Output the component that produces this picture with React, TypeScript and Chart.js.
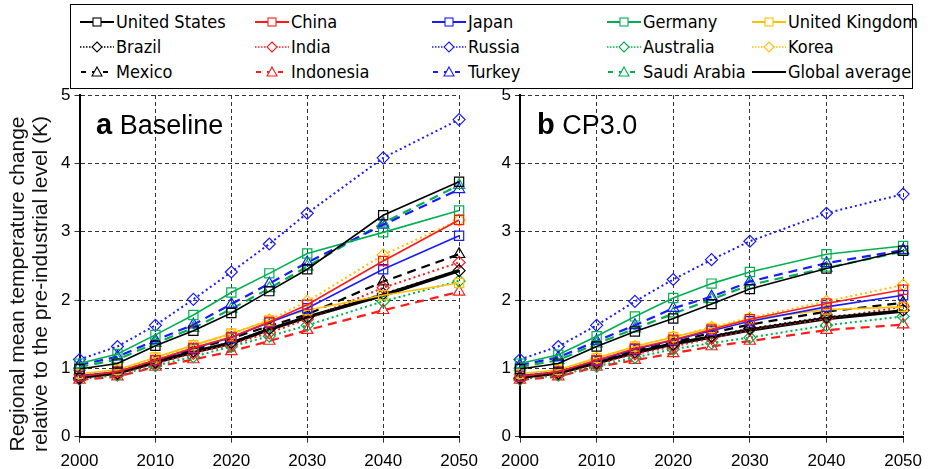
import React, { useEffect, useRef } from 'react';
import { Chart, registerables } from 'chart.js';

Chart.register(...registerables);

// ---- data -----------------------------------------------------------------
const years = [2000, 2005, 2010, 2015, 2020, 2025, 2030, 2040, 2050];
const xTickValues = [2000, 2010, 2020, 2030, 2040, 2050];
const yTickValues = [0, 1, 2, 3, 4, 5];

const countries = [
  'United States', 'China', 'Japan', 'Germany', 'United Kingdom',
  'Brazil', 'India', 'Russia', 'Australia', 'Korea',
  'Mexico', 'Indonesia', 'Turkey', 'Saudi Arabia', 'Global average',
];

// Baseline scenario (K above pre-industrial)
const baseUnitedStates = [0.99, 1.07, 1.33, 1.55, 1.81, 2.13, 2.45, 3.24, 3.73];
const baseChina = [0.88, 0.95, 1.12, 1.30, 1.46, 1.68, 1.93, 2.57, 3.17];
const baseJapan = [0.89, 0.95, 1.12, 1.29, 1.45, 1.67, 1.88, 2.45, 2.94];
const baseGermany = [1.07, 1.21, 1.49, 1.78, 2.11, 2.39, 2.68, 2.99, 3.31];
const baseUnitedKingdom = [0.92, 0.98, 1.16, 1.34, 1.51, 1.70, 1.85, 2.07, 2.25];
const baseBrazil = [0.86, 0.93, 1.09, 1.25, 1.38, 1.58, 1.75, 2.09, 2.43];
const baseIndia = [0.85, 0.92, 1.07, 1.22, 1.35, 1.52, 1.72, 2.18, 2.55];
const baseRussia = [1.13, 1.32, 1.63, 2.01, 2.41, 2.82, 3.27, 4.08, 4.64];
const baseAustralia = [0.84, 0.90, 1.04, 1.17, 1.32, 1.47, 1.63, 1.98, 2.28];
const baseKorea = [0.91, 0.97, 1.15, 1.33, 1.50, 1.71, 1.98, 2.66, 3.17];
const baseMexico = [0.88, 0.94, 1.10, 1.27, 1.44, 1.62, 1.79, 2.27, 2.67];
const baseIndonesia = [0.83, 0.88, 1.02, 1.13, 1.25, 1.40, 1.56, 1.85, 2.12];
const baseTurkey = [1.05, 1.17, 1.41, 1.64, 1.94, 2.24, 2.55, 3.10, 3.62];
const baseSaudiArabia = [1.02, 1.13, 1.37, 1.59, 1.87, 2.17, 2.49, 3.13, 3.68];
const baseGlobal = [0.87, 0.93, 1.09, 1.24, 1.37, 1.57, 1.75, 2.07, 2.43];

// CP3.0 scenario
const cpUnitedStates = [0.99, 1.07, 1.32, 1.54, 1.73, 1.94, 2.16, 2.46, 2.72];
const cpChina = [0.88, 0.95, 1.12, 1.29, 1.42, 1.57, 1.72, 1.95, 2.15];
const cpJapan = [0.89, 0.95, 1.11, 1.28, 1.41, 1.55, 1.69, 1.90, 2.07];
const cpGermany = [1.07, 1.20, 1.47, 1.76, 2.03, 2.24, 2.41, 2.67, 2.79];
const cpUnitedKingdom = [0.92, 0.98, 1.15, 1.32, 1.46, 1.59, 1.72, 1.86, 1.90];
const cpBrazil = [0.86, 0.93, 1.08, 1.24, 1.35, 1.47, 1.58, 1.75, 1.85];
const cpIndia = [0.85, 0.92, 1.06, 1.21, 1.32, 1.44, 1.57, 1.73, 1.90];
const cpRussia = [1.13, 1.32, 1.63, 1.98, 2.30, 2.59, 2.86, 3.27, 3.55];
const cpAustralia = [0.84, 0.90, 1.03, 1.16, 1.28, 1.37, 1.45, 1.63, 1.76];
const cpKorea = [0.91, 0.97, 1.15, 1.32, 1.46, 1.60, 1.74, 1.98, 2.22];
const cpMexico = [0.88, 0.94, 1.10, 1.26, 1.38, 1.52, 1.64, 1.83, 1.96];
const cpIndonesia = [0.83, 0.88, 1.02, 1.12, 1.22, 1.32, 1.40, 1.56, 1.64];
const cpTurkey = [1.05, 1.16, 1.40, 1.63, 1.88, 2.05, 2.27, 2.54, 2.73];
const cpSaudiArabia = [1.02, 1.12, 1.36, 1.58, 1.80, 2.01, 2.22, 2.47, 2.71];
const cpGlobal = [0.87, 0.93, 1.08, 1.23, 1.36, 1.46, 1.56, 1.73, 1.84];

const baselineSeries = [
  baseUnitedStates, baseChina, baseJapan, baseGermany, baseUnitedKingdom,
  baseBrazil, baseIndia, baseRussia, baseAustralia, baseKorea,
  baseMexico, baseIndonesia, baseTurkey, baseSaudiArabia, baseGlobal,
];
const cp30Series = [
  cpUnitedStates, cpChina, cpJapan, cpGermany, cpUnitedKingdom,
  cpBrazil, cpIndia, cpRussia, cpAustralia, cpKorea,
  cpMexico, cpIndonesia, cpTurkey, cpSaudiArabia, cpGlobal,
];

// ---- styling --------------------------------------------------------------
const BLACK = '#000000';
const RED = '#ff1a1a';
const BLUE = '#1a1aff';
const GREEN = '#00b050';
const GOLD = '#ffc000';
const columnColors = [BLACK, RED, BLUE, GREEN, GOLD];

type Kind = 'solid' | 'dotted' | 'dashed' | 'global';
const rowKinds: Kind[] = ['solid', 'dotted', 'dashed'];

function styleFor(i: number): { color: string; kind: Kind } {
  if (i === 14) return { color: BLACK, kind: 'global' };
  return { color: columnColors[i % 5], kind: rowKinds[Math.floor(i / 5)] };
}

const SANS = '"Liberation Sans", Arial, Helvetica, sans-serif';
const NARROW = '"Liberation Sans Narrow", "Arial Narrow", "DejaVu Sans Condensed", sans-serif';

function buildDatasets(series: number[][]) {
  return series.map((vals, i) => {
    const { color, kind } = styleFor(i);
    const base: any = {
      label: countries[i],
      data: years.map((yr, k) => ({ x: yr, y: vals[k] })),
      borderColor: color,
      backgroundColor: 'rgba(0,0,0,0)',
      pointBackgroundColor: 'rgba(0,0,0,0)',
      pointBorderColor: color,
      pointBorderWidth: 1.2,
      fill: false,
      tension: 0,
      clip: false,
    };
    if (kind === 'solid') {
      return { ...base, borderWidth: 1.6, pointStyle: 'rect', pointRadius: 6.5 };
    }
    if (kind === 'dotted') {
      return { ...base, borderWidth: 2, borderDash: [2, 3], pointStyle: 'rectRot', pointRadius: 6 };
    }
    if (kind === 'dashed') {
      return { ...base, borderWidth: 2.2, borderDash: [9, 6], pointStyle: 'triangle', pointRadius: 6.5 };
    }
    return { ...base, borderWidth: 3.5, pointRadius: 0 };
  });
}

function makeConfig(series: number[][], yAxisWidth: number, padRight: number) {
  const tickFont = { family: SANS, size: 17 };
  return {
    type: 'line' as const,
    data: { datasets: buildDatasets(series) },
    options: {
      animation: false as const,
      responsive: false,
      devicePixelRatio: 1,
      events: [],
      layout: { padding: { top: 95, right: padRight, left: 0, bottom: 0 } },
      plugins: { legend: { display: false }, tooltip: { enabled: false } },
      scales: {
        x: {
          type: 'linear' as const,
          min: 2000,
          max: 2050,
          afterBuildTicks: (s: any) => { s.ticks = xTickValues.map((v) => ({ value: v })); },
          afterFit: (s: any) => { s.height = 32.3; },
          ticks: { font: tickFont, color: '#000', padding: 8, maxRotation: 0, callback: (v: any) => String(v) },
          grid: { color: '#333', lineWidth: 1, tickLength: 6 },
          border: { display: true, color: '#000', width: 2, dash: [4, 3] },
        },
        y: {
          type: 'linear' as const,
          min: 0,
          max: 5,
          afterBuildTicks: (s: any) => { s.ticks = yTickValues.map((v) => ({ value: v })); },
          afterFit: (s: any) => { s.width = yAxisWidth; },
          ticks: { font: tickFont, color: '#000', padding: 4, callback: (v: any) => String(v) },
          grid: { color: '#333', lineWidth: 1, tickLength: 5 },
          border: { display: true, color: '#000', width: 2, dash: [4, 3] },
        },
      },
    },
  };
}

function Panel(props: { series: number[][]; left: number; width: number; yAxisWidth: number; padRight: number }) {
  const ref = useRef<HTMLCanvasElement | null>(null);
  useEffect(() => {
    if (!ref.current) return;
    const chart = new Chart(ref.current, makeConfig(props.series, props.yAxisWidth, props.padRight) as any);
    return () => chart.destroy();
  }, []);
  return (
    <canvas
      ref={ref}
      width={props.width}
      height={469}
      style={{ position: 'absolute', left: props.left, top: 0, width: props.width, height: 469 }}
    />
  );
}

// ---- legend ---------------------------------------------------------------
const legendTextX = [115, 290, 467, 642, 787];
const legendRowY = [21, 46, 71];

function Sample(props: { index: number }) {
  const { color, kind } = styleFor(props.index);
  const w = 34;
  const cy = 7;
  const cx = 17;
  let line: any = null;
  let marker: any = null;
  if (kind === 'solid') {
    line = <line x1={0} y1={cy} x2={w} y2={cy} stroke={color} strokeWidth={2} />;
    marker = <rect x={cx - 4} y={cy - 4} width={8} height={8} fill="#fff" stroke={color} strokeWidth={1.1} />;
  } else if (kind === 'dotted') {
    line = <line x1={0} y1={cy} x2={w} y2={cy} stroke={color} strokeWidth={1.5} strokeDasharray="1.5 1.5" />;
    marker = <polygon points={`${cx},${cy - 5} ${cx + 5},${cy} ${cx},${cy + 5} ${cx - 5},${cy}`} fill="#fff" stroke={color} strokeWidth={1.1} />;
  } else if (kind === 'dashed') {
    line = <line x1={1} y1={cy} x2={w - 1} y2={cy} stroke={color} strokeWidth={2} strokeDasharray="5 6" />;
    marker = <polygon points={`${cx},${cy - 5} ${cx + 5},${cy + 4} ${cx - 5},${cy + 4}`} fill="#fff" stroke={color} strokeWidth={1.1} />;
  } else {
    line = <line x1={0} y1={cy} x2={w} y2={cy} stroke={color} strokeWidth={2.2} />;
  }
  return (
    <svg width={w} height={14} style={{ position: 'absolute', left: -36, top: -7 }}>
      {line}
      {marker}
    </svg>
  );
}

function Legend() {
  return (
    <div style={{ position: 'absolute', left: 70, top: 4, width: 843, height: 85, border: '1px solid #000', boxSizing: 'border-box' }}>
      {countries.map((name, i) => {
        const col = i % 5;
        const row = Math.floor(i / 5);
        return (
          <div key={name} style={{ position: 'absolute', left: legendTextX[col] - 70, top: legendRowY[row] - 4 }}>
            <Sample index={i} />
            <span style={{ position: 'absolute', left: 0, top: -11, whiteSpace: 'nowrap', font: `18px ${NARROW}`, lineHeight: '22px', color: '#000' }}>
              {name}
            </span>
          </div>
        );
      })}
    </div>
  );
}

export default function App() {
  return (
    <div style={{ position: 'fixed', left: 0, top: 0, width: 934, height: 469, background: '#fff', overflow: 'hidden', fontFamily: SANS }}>
      <Legend />
      <Panel series={baselineSeries} left={0} width={486} yAxisWidth={79.5} padRight={20.3} />
      <Panel series={cp30Series} left={470} width={460} yAxisWidth={50} padRight={24.3} />
      <div
        style={{
          position: 'absolute', left: 28.5 - 190, top: 284 - 24, width: 380, height: 48,
          transform: 'rotate(-90deg)', transformOrigin: '50% 50%', textAlign: 'center',
          font: `21px ${SANS}`, lineHeight: '23px', color: '#111', whiteSpace: 'nowrap',
        }}
      >
        <div>Regional mean temperature change</div>
        <div>relative to the pre-industrial level (K)</div>
      </div>
      <div style={{ position: 'absolute', left: 96, top: 111, font: `27px ${SANS}`, lineHeight: '27px', whiteSpace: 'nowrap', color: '#000' }}>
        <b style={{ fontSize: 29 }}>a</b> Baseline
      </div>
      <div style={{ position: 'absolute', left: 537, top: 111, font: `27px ${SANS}`, lineHeight: '27px', whiteSpace: 'nowrap', color: '#000' }}>
        <b style={{ fontSize: 29 }}>b</b> CP3.0
      </div>
    </div>
  );
}
